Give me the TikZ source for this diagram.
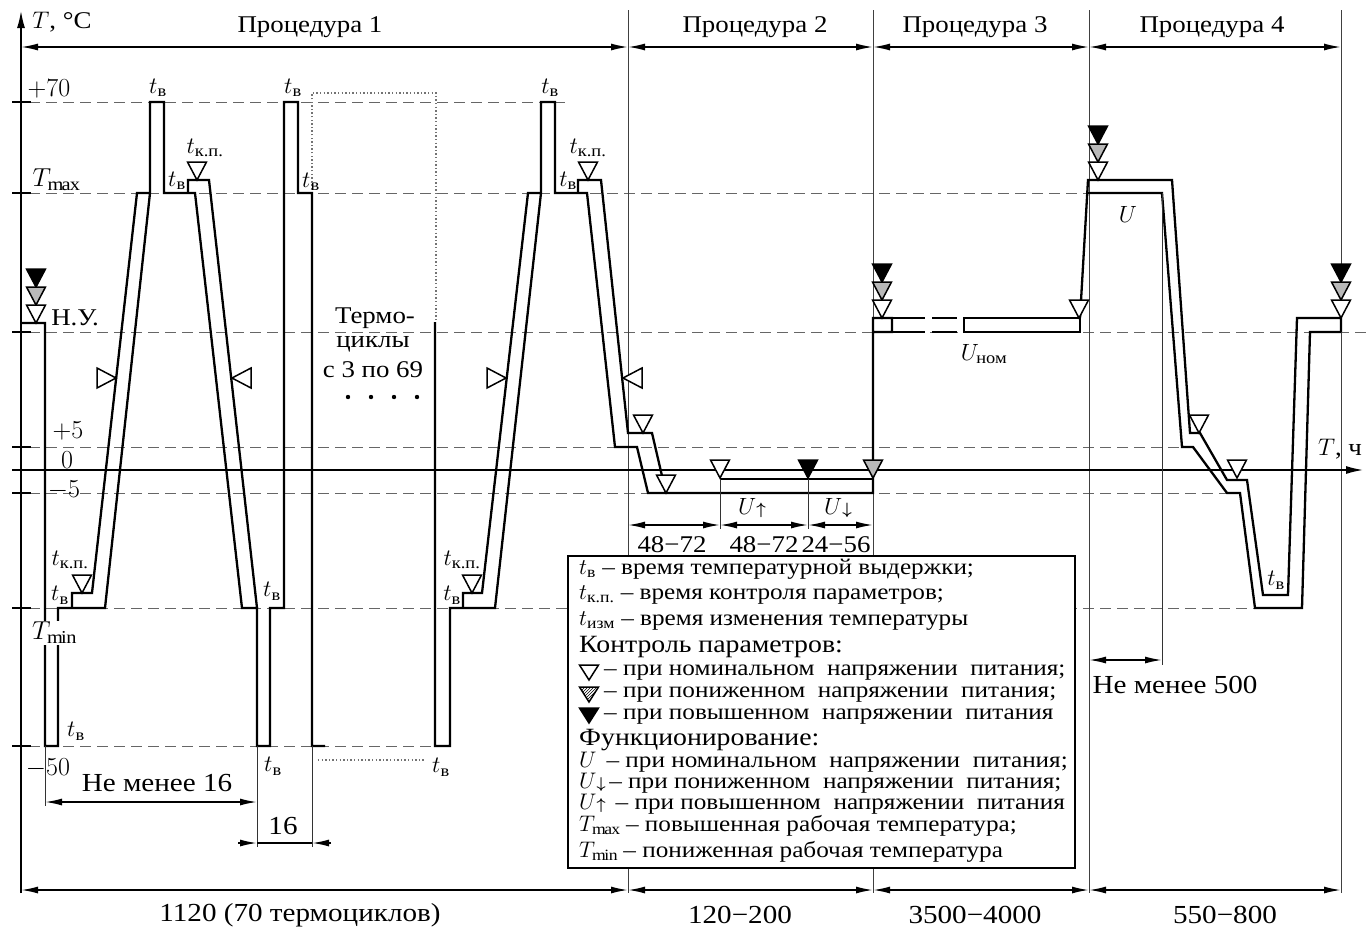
\RequirePackage{fix-cm}
\documentclass[tikz,border=0pt]{standalone}
\usepackage{amsmath}
\usepackage{fontspec}
\setmainfont{Liberation Serif}[FakeStretch=1.12]
\usetikzlibrary{arrows.meta,patterns}
\newcommand\tvv{$t_{\textrm{в}}$}
\newcommand\tkpp{$t_{\textrm{к.п.}}$}
\newcommand\uarr{\mathord{\scriptstyle\boldsymbol{\uparrow}}}
\newcommand\darr{\mathord{\scriptstyle\boldsymbol{\downarrow}}}
\begin{document}
\begin{tikzpicture}[x=1pt,y=-1pt,
  trace/.style={line width=2.3pt,line join=miter},
  axisln/.style={line width=2.2pt},
  sepln/.style={line width=1pt,black!75},
  lvl/.style={line width=1pt,black!60,dash pattern=on 11pt off 6pt},
  dotln/.style={line width=1.1pt,black!55,dash pattern=on 1.4pt off 2.2pt},
  dim/.style={line width=1.6pt,{Latex[length=17pt,width=7pt]}-{Latex[length=17pt,width=7pt]}},
  ext/.style={line width=0.9pt,black!80},
  big/.style={inner sep=0pt,font=\fontsize{24}{26}\selectfont},
  axl/.style={inner sep=0pt,font=\fontsize{26}{28}\selectfont},
  bot/.style={inner sep=0pt,font=\fontsize{26}{28}\selectfont},
  mid/.style={inner sep=0pt,font=\fontsize{23.5}{25}\selectfont},
  leg/.style={inner sep=0pt,anchor=base west,font=\fontsize{22.5}{24}\selectfont},
  legh/.style={inner sep=0pt,anchor=base west,font=\fontsize{24.8}{26}\selectfont},
  pics/tdn/.style={code={\draw[line width=1.5pt,#1] (-9.5,-18)--(9.5,-18)--(0,0)--cycle;}},
  pics/tsm/.style={code={\draw[line width=1.5pt,#1] (-9.5,-15)--(9.5,-15)--(0,0)--cycle;}},
  pics/trr/.style={code={\draw[line width=1.5pt,fill=white] (-19,-10)--(-19,10)--(0,0)--cycle;}},
  pics/tll/.style={code={\draw[line width=1.5pt,fill=white] (19,-10)--(19,10)--(0,0)--cycle;}}
]
\useasboundingbox (0,0) rectangle (1366,930);
\fill[white] (0,0) rectangle (1366,930);

% level lines
\draw[lvl] (12,102) -- (565,102);
\draw[lvl] (12,193) -- (1088,193);
\draw[lvl] (12,332) -- (1366,332);
\draw[lvl] (12,447) -- (1185,447);
\draw[lvl] (12,493) -- (1227,493);
\draw[lvl] (12,608) -- (1255,608);
\draw[lvl] (12,746) -- (435,746);
\foreach \yy in {102,193,332,447,493,608,746} \draw[line width=2pt] (12,\yy) -- (31,\yy);

% separators
\foreach \xx in {628,873,1089,1341} \draw[sepln] (\xx,10) -- (\xx,893);

% axes
\draw[axisln,-{Latex[length=18pt,width=8pt]}] (21,893) -- (21,10);
\draw[axisln,-{Latex[length=18pt,width=8pt]}] (12,470) -- (1364,470);

% top and bottom dimensions
\draw[dim] (21,47) -- (628,47);
\draw[dim] (628,47) -- (873,47);
\draw[dim] (873,47) -- (1089,47);
\draw[dim] (1089,47) -- (1341,47);
\draw[dim] (21,890) -- (628,890);
\draw[dim] (628,890) -- (873,890);
\draw[dim] (873,890) -- (1089,890);
\draw[dim] (1089,890) -- (1341,890);

% dotted placeholder for cycles 3..69
\draw[dotln] (312,193) -- (312,93) -- (436,93) -- (436,322);
\draw[dotln] (318,760) -- (425,760);
\foreach \xx in {348,371,394,417} \fill (\xx,397) circle (2.2);

% cycle 1 and 2
\draw[trace] (21,323) -- (45,323) -- (45,746) -- (58,746) -- (58,608) -- (105,608) -- (150,193) -- (150,102) -- (164,102) -- (164,193) -- (195,193) -- (242,608) -- (257,608) -- (257,746) -- (270,746) -- (270,608) -- (284,608) -- (284,102) -- (298,102) -- (298,193) -- (312,193) -- (312,746) -- (325,746);
\draw[trace] (72,608) -- (72,593) -- (92,593) -- (137,193) -- (150,193);
\draw[trace] (188,193) -- (188,180) -- (209,180) -- (257,608);

% cycle 70 and procedure 2
\draw[trace] (435,322) -- (435,746) -- (450,746) -- (450,608) -- (495,608) -- (541,193) -- (541,102) -- (555,102) -- (555,193) -- (587,193) -- (615,447) -- (637,447) -- (648,493) -- (873,493) -- (873,318) -- (892,318) -- (892,332) -- (873,332);
\draw[trace] (463,608) -- (463,593) -- (482,593) -- (528,193) -- (541,193);
\draw[trace] (578,193) -- (578,180) -- (601,180) -- (628,433) -- (652,433) -- (666,493);
\draw[trace] (720,479) -- (873,479);

% procedure 3
\draw[trace] (892,318) -- (925,318) (932,318) -- (957,318);
\draw[trace] (892,332) -- (925,332) (932,332) -- (957,332);
\draw[trace] (964,318) rectangle (1080,332);

% procedure 4
\draw[trace] (1080,318) -- (1088,180) -- (1172,180) -- (1190,433) -- (1200,433) -- (1227,480) -- (1247,480) -- (1263,595) -- (1288,595) -- (1297,318) -- (1341,318) -- (1341,332);
\draw[trace] (1088,193) -- (1162,193) -- (1182,447) -- (1193,447) -- (1227,493) -- (1240,493) -- (1255,608) -- (1302,608) -- (1310,332) -- (1341,332);

% small dimensions
\draw[ext] (45,746) -- (45,806);
\draw[ext] (257,746) -- (257,847);
\draw[ext] (312,746) -- (312,847);
\draw[dim] (45,802) -- (257,802);
\draw[line width=1.6pt,-{Latex[length=17pt,width=7pt]}] (238,843) -- (257,843);
\draw[line width=1.6pt] (257,843) -- (312,843);
\draw[line width=1.6pt,-{Latex[length=17pt,width=7pt]}] (331,843) -- (312,843);
\draw[ext] (720,479) -- (720,529);
\draw[ext] (808,479) -- (808,529);
\draw[dim] (628,525) -- (720,525);
\draw[dim] (720,525) -- (808,525);
\draw[dim] (808,525) -- (873,525);
\draw[ext] (1162,193) -- (1162,665);
\draw[dim] (1089,660) -- (1162,660);

% triangles
\pic at (36,287) {tdn={fill=black}};
\pic at (36,305) {tdn={fill=gray!55}};
\pic at (36,323) {tdn={fill=white}};
\pic at (197,180) {tdn={fill=white}};
\pic at (82,593) {tdn={fill=white}};
\pic at (588,180) {tdn={fill=white}};
\pic at (472,593) {tdn={fill=white}};
\pic at (116,378) {trr};
\pic at (232,378) {tll};
\pic at (506,378) {trr};
\pic at (623,378) {tll};
\pic at (643,433) {tdn={fill=white}};
\pic at (666,493) {tdn={fill=white}};
\pic at (720,478) {tdn={fill=white}};
\pic at (808,478) {tdn={fill=black}};
\pic at (873,478) {tdn={fill=gray!55}};
\pic at (882,282) {tdn={fill=black}};
\pic at (882,300) {tdn={fill=gray!55}};
\pic at (882,318) {tdn={fill=white}};
\pic at (1079,318) {tdn={fill=white}};
\pic at (1098,144) {tdn={fill=black}};
\pic at (1098,162) {tdn={fill=gray!55}};
\pic at (1098,180) {tdn={fill=white}};
\pic at (1199,433) {tdn={fill=white}};
\pic at (1237,478) {tdn={fill=white}};
\pic at (1341,282) {tdn={fill=black}};
\pic at (1341,300) {tdn={fill=gray!55}};
\pic at (1341,318) {tdn={fill=white}};

% legend
\draw[line width=1.8pt,fill=white] (568,556) rectangle (1075,868);
\node[leg] (g1) at (579,574) {\tvv\ – время температурной выдержки;};
\node[leg] (g2) at (579,599) {\tkpp\ – время контроля параметров;};
\node[leg] (g3) at (579,625) {$t_{\textrm{изм}}$ – время изменения температуры};
\node[legh] (g4) at (579,652) {Контроль параметров:};
\pic at (589,680) {tsm={fill=white}};
\pic at (589,702) {tsm={pattern=north east lines}};
\pic at (589,723) {tsm={fill=black}};
\node[leg] (g5) at (604,675) {– при номинальном\ \ напряжении\ \ питания;};
\node[leg] (g6) at (604,697) {– при пониженном\ \ напряжении\ \ питания;};
\node[leg] (g7) at (604,719) {– при повышенном\ \ напряжении\ \ питания};
\node[legh] (g8) at (579,745) {Функционирование:};
\node[leg] (g9) at (579,767) {$U$\, – при номинальном\ \ напряжении\ \ питания;};
\node[leg] (g10) at (579,788) {$U\darr$\,– при пониженном\ \ напряжении\ \ питания;};
\node[leg] (g11) at (579,809) {$U\uarr$\, – при повышенном\ \ напряжении\ \ питания};
\node[leg] (g12) at (579,831) {$T_{\max}$ – повышенная рабочая температура;};
\node[leg] (g13) at (579,857) {$T_{\min}$ – пониженная рабочая температура};

% headings and axis labels
\node[big] (tc) at (62,22) {$T$, °C};
\node[big] (th) at (1340,449) {$T$, ч};
\node[big] (p1) at (310,27) {Процедура 1};
\node[big] (p2) at (755,27) {Процедура 2};
\node[big] (p3) at (975,27) {Процедура 3};
\node[big] (p4) at (1212,27) {Процедура 4};
\node[bot] (d1) at (300,915) {1120 (70 термоциклов)};
\node[bot] (d2) at (740,915) {120−200};
\node[bot] (d3) at (975,915) {3500−4000};
\node[bot] (d4) at (1225,915) {550−800};
\node[axl] (l70) at (49,89) {$+70$};
\node[axl] (lmax) at (56,180) {$T_{\max}$};
\node[big] (lnu) at (75,318) {Н.У.};
\node[axl] (l5) at (68,431) {$+5$};
\node[axl] (l0) at (67,460) {$0$};
\node[axl] (lm5) at (64,490) {$-5$};
\node[axl,fill=white,inner ysep=1pt] (lmin) at (54,633) {$T_{\min}$};
\node[axl] (lm50) at (48,768) {$-50$};
\node[big] (tm1) at (375,318) {Термо-};
\node[big] (tm2) at (373,344) {циклы};
\node[big] (tm3) at (373,370) {с 3 по 69};

% time labels
\node[mid] (a1) at (158,88) {\tvv};
\node[mid] (a2) at (205,148) {\tkpp};
\node[mid] (a3) at (177,181) {\tvv};
\node[mid] (a4) at (293,88) {\tvv};
\node[mid] (a5) at (311,182) {\tvv};
\node[mid] (a6) at (70,560) {\tkpp};
\node[mid] (a7) at (60,595) {\tvv};
\node[mid] (a8) at (76,731) {\tvv};
\node[mid] (a9) at (272,591) {\tvv};
\node[mid] (a10) at (273,766) {\tvv};
\node[mid] (a11) at (441,767) {\tvv};
\node[mid] (a12) at (462,560) {\tkpp};
\node[mid] (a13) at (452,595) {\tvv};
\node[mid] (a14) at (550,88) {\tvv};
\node[mid] (a15) at (588,148) {\tkpp};
\node[mid] (a16) at (568,181) {\tvv};
\node[mid] (a17) at (1276,580) {\tvv};
\node[mid] (u1) at (1128,214) {$U$};
\node[mid] (u2) at (984,354) {$U_{\textrm{ном}}$};

% dimension labels
\node[bot] (n16) at (157,783) {Не менее 16};
\node[bot] (s16) at (283,826) {16};
\node[bot] (n500) at (1175,685) {Не менее 500};
\node[big] (q1) at (672,545) {48−72};
\node[big] (q2) at (764,545) {48−72};
\node[big] (q3) at (836,545) {24−56};
\node[mid] (uu) at (752,508) {$U\uarr$};
\node[mid] (ud) at (838,508) {$U\darr$};
\end{tikzpicture}
\end{document}
